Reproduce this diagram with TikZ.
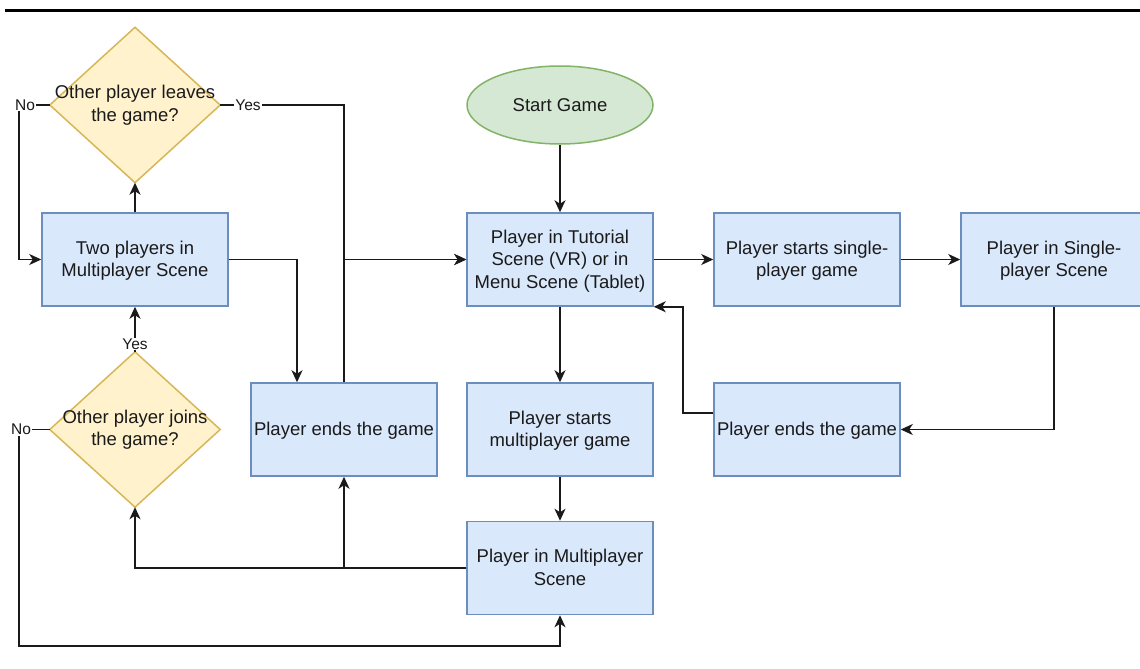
\documentclass[tikz,border=0pt]{standalone}
\usepackage{fontspec}
\setmainfont{Liberation Sans}
\usetikzlibrary{arrows.meta,calc,backgrounds,shapes.geometric}
\definecolor{boxfill}{HTML}{DAE8FC}
\definecolor{boxline}{HTML}{6C8EBF}
\definecolor{decfill}{HTML}{FFF2CC}
\definecolor{decline}{HTML}{D6B656}
\definecolor{startfill}{HTML}{D5E8D4}
\definecolor{startline}{HTML}{82B366}
\definecolor{ink}{HTML}{1A1A1A}

\begin{document}
\begin{tikzpicture}[x=1pt,y=-1pt,
  font=\fontsize{18.5}{22.5}\selectfont,
  stepbox/.style={draw=boxline,fill=boxfill,line width=1.5pt,minimum width=186pt,
    minimum height=93pt,align=center,inner sep=0pt,text=ink,text depth=1pt},
  startbox/.style={ellipse,draw=startline,fill=startfill,line width=1.5pt,
    minimum width=186pt,minimum height=78pt,inner sep=0pt,text=ink},
  decision/.style={minimum width=170pt,minimum height=155pt,align=center,
    inner sep=0pt,text=ink},
  decshape/.style={draw=decline,fill=decfill,line width=1.5pt},
  flow/.style={draw=ink,line width=1.6pt,-{Stealth[length=12pt,width=11pt,inset=3.5pt]}},
  edgelabel/.style={fill=white,inner sep=1pt,text=ink,
    font=\fontsize{15.5}{18}\selectfont}]

\useasboundingbox (0,0) rectangle (1140,669);
\clip (0,0) rectangle (1140,669);

% heading rule
\draw[line width=2.2pt] (5,10.5) -- (1140,10.5);

% process steps
\node[startbox] (start) at (560,105) {Start Game};
\node[stepbox] (tut) at (560,259.5) {Player in Tutorial\\Scene (VR) or in\\Menu Scene (Tablet)};
\node[stepbox] (sstart) at (807,259.5) {Player starts single-\\player game};
\node[stepbox] (sscene) at (1054,259.5) {Player in Single-\\player Scene};
\node[stepbox] (pendR) at (807,429.5) {Player ends the game};
\node[stepbox] (mstart) at (560,429.5) {Player starts\\multiplayer game};
\node[stepbox] (mscene) at (560,568) {Player in Multiplayer\\Scene};
\node[stepbox] (pendL) at (344,429.5) {Player ends the game};
\node[stepbox] (two) at (135,259.5) {Two players in\\Multiplayer Scene};

% decisions: text nodes with the diamond drawn behind them
\node[decision] (leave) at (135,105) {Other player leaves\\the game?};
\node[decision] (join) at (135,429.5) {Other player joins\\the game?};
\begin{scope}[on background layer]
  \draw[decshape] (leave.north) -- (leave.east) -- (leave.south) -- (leave.west) -- cycle;
  \draw[decshape] (join.north) -- (join.east) -- (join.south) -- (join.west) -- cycle;
\end{scope}

% single-player branch
\draw[flow] (start) -- (tut);
\draw[flow] (tut) -- (sstart);
\draw[flow] (sstart) -- (sscene);
\draw[flow] (sscene.south) |- (pendR.east);
\draw[flow] ($(pendR.west)+(0,-16.5)$) -- ++(-30,0) |- (tut.south east);

% multiplayer branch
\draw[flow] (tut) -- (mstart);
\draw[flow] (mstart) -- (mscene);
\draw[flow] (mscene.west) -| (join.south);
\draw[flow] (mscene.west) -| (pendL.south);
\draw[flow] (join.west) -| (19,646) -| (mscene.south);
\draw[flow] (join.north) -- (two.south);
\draw[flow] (two.north) -- (leave.south);
\draw[flow] (leave.west) -| (19,259.5) -- (two.west);
\draw[flow] (leave.east) -| (pendL.north |- tut.west) -- (tut.west);
\draw[flow] (pendL.north) -- (pendL.north |- tut.west) -- (tut.west);
\draw[flow] (two.east) -| ($(pendL.north)+(-47,0)$);

% branch labels
\node[edgelabel] (noLeave) at (25,105) {No};
\node[edgelabel] (yesLeave) at (248,105) {Yes};
\node[edgelabel] (yesJoin) at (135,344) {Yes};
\node[edgelabel] (noJoin) at (21,429.5) {No};
\end{tikzpicture}
\end{document}
